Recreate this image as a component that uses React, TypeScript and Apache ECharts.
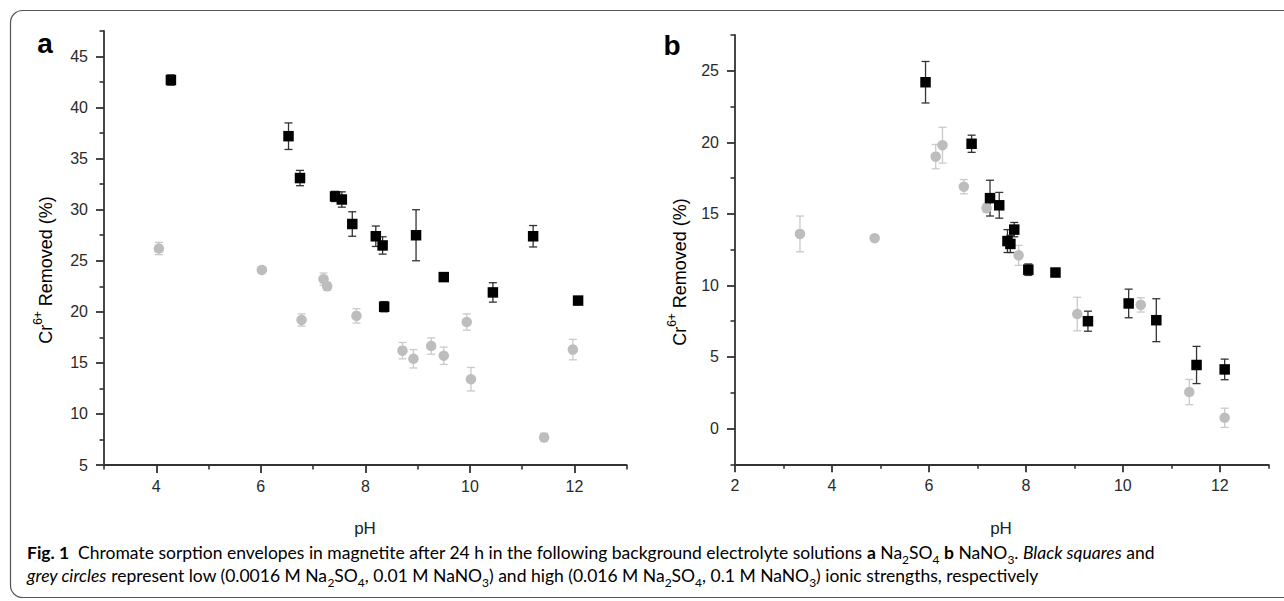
import React, { useEffect, useRef } from 'react';
import * as echarts from 'echarts';

// Panel a (Na2SO4): [pH, Cr6+ removed %, error]
const aLowIonic = [
  [4.28, 42.7, 0.5],
  [6.53, 37.2, 1.3],
  [6.75, 33.1, 0.75],
  [7.42, 31.3, 0.5],
  [7.55, 31.0, 0.75],
  [7.75, 28.6, 1.2],
  [8.2, 27.4, 1.0],
  [8.33, 26.5, 0.85],
  [8.36, 20.5, 0.5],
  [8.97, 27.5, 2.5],
  [9.5, 23.4, 0.3],
  [10.44, 21.9, 0.95],
  [11.21, 27.4, 1.05],
  [12.07, 21.1, 0.3],
];
const aHighIonic = [
  [4.05, 26.2, 0.6],
  [6.02, 24.1, 0.3],
  [6.78, 19.2, 0.6],
  [7.2, 23.2, 0.6],
  [7.27, 22.5, 0.4],
  [7.83, 19.6, 0.7],
  [8.71, 16.2, 0.8],
  [8.92, 15.4, 0.9],
  [9.26, 16.65, 0.8],
  [9.5, 15.7, 0.85],
  [9.94, 19.0, 0.8],
  [10.02, 13.4, 1.15],
  [11.42, 7.7, 0.4],
  [11.97, 16.3, 1.0],
];
// Panel b (NaNO3)
const bLowIonic = [
  [5.93, 24.2, 1.45],
  [6.88, 19.9, 0.6],
  [7.26, 16.1, 1.25],
  [7.45, 15.6, 0.9],
  [7.62, 13.1, 0.8],
  [7.68, 12.9, 0.6],
  [7.76, 13.9, 0.5],
  [8.05, 11.1, 0.4],
  [8.61, 10.9, 0.2],
  [9.28, 7.5, 0.7],
  [10.12, 8.74, 1.0],
  [10.69, 7.57, 1.5],
  [11.52, 4.44, 1.3],
  [12.1, 4.13, 0.72],
];
const bHighIonic = [
  [3.34, 13.6, 1.25],
  [4.88, 13.3, 0.2],
  [6.14, 19.0, 0.85],
  [6.28, 19.8, 1.25],
  [6.72, 16.9, 0.5],
  [7.19, 15.4, 0.3],
  [7.85, 12.1, 0.7],
  [9.06, 8.0, 1.17],
  [10.37, 8.64, 0.5],
  [11.37, 2.55, 0.88],
  [12.1, 0.75, 0.67],
];

const aXTicks = [4, 6, 8, 10, 12];
const aXMinor = [3, 5, 7, 9, 11, 13];
const aYTicks = [5, 10, 15, 20, 25, 30, 35, 40, 45];
const aYMinor = [7.5, 12.5, 17.5, 22.5, 27.5, 32.5, 37.5, 42.5, 47.5];
const bXTicks = [2, 4, 6, 8, 10, 12];
const bXMinor = [3, 5, 7, 9, 11, 13];
const bYTicks = [0, 5, 10, 15, 20, 25];
const bYMinor = [-2.5, 2.5, 7.5, 12.5, 17.5, 22.5, 27.5];

const AXIS_COLOR = '#333';
const LABEL_FONT = '"Liberation Sans", Arial, Helvetica, sans-serif';

function majorAxis(gridIndex: number, min: number, max: number, ticks: number[], position: string, margin: number) {
  return {
    type: 'value',
    gridIndex,
    min,
    max,
    position,
    axisLine: { show: true, onZero: false, lineStyle: { color: AXIS_COLOR, width: 1.8 } },
    axisTick: { show: true, inside: false, length: 8, customValues: ticks, lineStyle: { color: AXIS_COLOR, width: 1.8 } },
    axisLabel: { show: true, customValues: ticks, fontSize: 16, color: '#2a2a2a', fontFamily: LABEL_FONT, margin },
    splitLine: { show: false },
  };
}
function minorAxis(gridIndex: number, min: number, max: number, ticks: number[], position: string) {
  return {
    type: 'value',
    gridIndex,
    min,
    max,
    position,
    axisLine: { show: false, onZero: false },
    axisTick: { show: true, inside: false, length: 4.5, customValues: ticks, lineStyle: { color: AXIS_COLOR, width: 1.6 } },
    axisLabel: { show: false, customValues: ticks },
    splitLine: { show: false },
  };
}

function errorSeries(data: number[][], xAxisIndex: number, yAxisIndex: number, color: string) {
  return {
    type: 'custom',
    xAxisIndex,
    yAxisIndex,
    data,
    encode: { x: 0, y: 1 },
    z: 1,
    renderItem: (params: any, api: any) => {
      const x = api.value(0);
      const y = api.value(1);
      const e = api.value(2);
      const top = api.coord([x, y + e]);
      const bot = api.coord([x, y - e]);
      const cw = 4;
      const style = { stroke: color, lineWidth: 1.3 };
      return {
        type: 'group',
        children: [
          { type: 'line', shape: { x1: top[0], y1: top[1], x2: bot[0], y2: bot[1] }, style },
          { type: 'line', shape: { x1: top[0] - cw, y1: top[1], x2: top[0] + cw, y2: top[1] }, style },
          { type: 'line', shape: { x1: bot[0] - cw, y1: bot[1], x2: bot[0] + cw, y2: bot[1] }, style },
        ],
      };
    },
  };
}

function scatterSeries(data: number[][], xAxisIndex: number, yAxisIndex: number, symbol: string, color: string, size: number) {
  return {
    type: 'scatter',
    xAxisIndex,
    yAxisIndex,
    data: data.map((d) => [d[0], d[1]]),
    symbol,
    symbolSize: size,
    itemStyle: { color, opacity: 1 },
    z: 3,
  };
}

const capFont = 'Lato, "Open Sans", sans-serif';
const CAP = 17.5;
const capRich = {
  n: { fontSize: CAP, fontFamily: capFont, color: '#231f20', lineHeight: 22 },
  b: { fontSize: CAP, fontFamily: capFont, color: '#231f20', fontWeight: 'bold', lineHeight: 22 },
  i: { fontSize: CAP, fontFamily: capFont, color: '#231f20', fontStyle: 'italic', lineHeight: 22 },
  s: { fontSize: 12, fontFamily: capFont, color: '#231f20', lineHeight: 27, verticalAlign: 'bottom' },
};
const nameRich = {
  m: { fontSize: 18, fontFamily: LABEL_FONT, color: '#222', lineHeight: 22 },
  sup: { fontSize: 12, fontFamily: LABEL_FONT, color: '#222', lineHeight: 28, verticalAlign: 'top' },
};

export default function App() {
  const ref = useRef<HTMLDivElement>(null);
  useEffect(() => {
    if (!ref.current) return;
    const chart = echarts.init(ref.current, null, { renderer: 'svg' });
    const yName = '{m|Cr}{sup|6+}{m| Removed (%)}';
    chart.setOption({
      animation: false,
      backgroundColor: '#fff',
      grid: [
        { left: 104, top: 31, width: 522.7, height: 434 },
        { left: 735, top: 35, width: 533.3, height: 429.3 },
      ],
      xAxis: [
        majorAxis(0, 3, 13, aXTicks, 'bottom', 13),
        minorAxis(0, 3, 13, aXMinor, 'bottom'),
        majorAxis(1, 2, 13, bXTicks, 'bottom', 13),
        minorAxis(1, 2, 13, bXMinor, 'bottom'),
      ],
      yAxis: [
        majorAxis(0, 5, 47.5, aYTicks, 'left', 16),
        minorAxis(0, 5, 47.5, aYMinor, 'left'),
        majorAxis(1, -2.5, 27.5, bYTicks, 'left', 16),
        minorAxis(1, -2.5, 27.5, bYMinor, 'left'),
      ],
      series: [
        errorSeries(aHighIonic, 0, 0, '#cacaca'),
        errorSeries(aLowIonic, 0, 0, '#333'),
        scatterSeries(aHighIonic, 0, 0, 'circle', '#bdbdbd', 10.5),
        scatterSeries(aLowIonic, 0, 0, 'rect', '#000', 10.5),
        errorSeries(bHighIonic, 2, 2, '#cacaca'),
        errorSeries(bLowIonic, 2, 2, '#333'),
        scatterSeries(bHighIonic, 2, 2, 'circle', '#bdbdbd', 10.5),
        scatterSeries(bLowIonic, 2, 2, 'rect', '#000', 10.5),
      ],
      graphic: [
        {
          type: 'rect',
          shape: { x: 10.5, y: 10.5, width: 1300, height: 587, r: 12 },
          style: { fill: 'none', stroke: '#555', lineWidth: 1.2 },
          z: 0,
        },
        { type: 'text', x: 45, y: 43, style: { text: 'a', font: 'bold 28px "Liberation Sans", Arial, sans-serif', fill: '#000', align: 'center', verticalAlign: 'middle' } },
        { type: 'text', x: 672, y: 45, style: { text: 'b', font: 'bold 28px "Liberation Sans", Arial, sans-serif', fill: '#000', align: 'center', verticalAlign: 'middle' } },
        { type: 'text', x: 46, y: 270, rotation: Math.PI / 2, style: { text: yName, rich: nameRich, align: 'center', verticalAlign: 'middle' } },
        { type: 'text', x: 680, y: 272, rotation: Math.PI / 2, style: { text: yName, rich: nameRich, align: 'center', verticalAlign: 'middle' } },
        { type: 'text', x: 365, y: 528, style: { text: 'pH', font: '17px "Liberation Sans", Arial, sans-serif', fill: '#222', align: 'center', verticalAlign: 'middle' } },
        { type: 'text', x: 1001, y: 528, style: { text: 'pH', font: '17px "Liberation Sans", Arial, sans-serif', fill: '#222', align: 'center', verticalAlign: 'middle' } },
        {
          type: 'text', x: 27, y: 552,
          style: {
            text: '{b|Fig. 1}{n|  Chromate sorption envelopes in magnetite after 24 h in the following background electrolyte solutions }{b|a}{n| Na}{s|2}{n|SO}{s|4}{n| }{b|b}{n| NaNO}{s|3}{n|. }{i|Black squares}{n| and}',
            rich: capRich, align: 'left', verticalAlign: 'middle',
          },
        },
        {
          type: 'text', x: 27, y: 575,
          style: {
            text: '{i|grey circles}{n| represent low (0.0016 M Na}{s|2}{n|SO}{s|4}{n|, 0.01 M NaNO}{s|3}{n|) and high (0.016 M Na}{s|2}{n|SO}{s|4}{n|, 0.1 M NaNO}{s|3}{n|) ionic strengths, respectively}',
            rich: capRich, align: 'left', verticalAlign: 'middle',
          },
        },
      ],
    });
    return () => chart.dispose();
  }, []);
  return <div ref={ref} style={{ position: 'fixed', left: 0, top: 0, width: 1284, height: 601 }} />;
}
